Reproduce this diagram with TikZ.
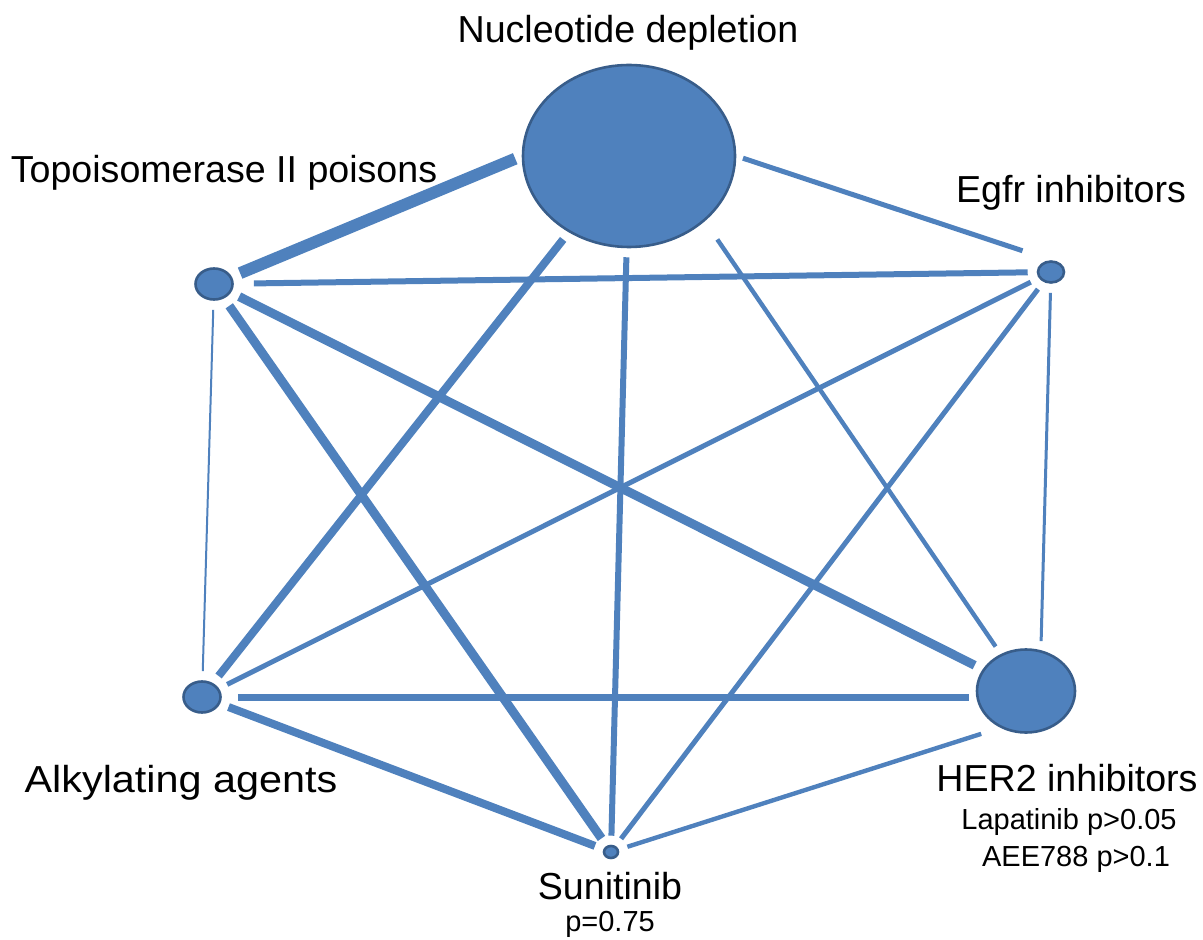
\documentclass[tikz,border=0pt]{standalone}
\usepackage{fontspec}
\setmainfont{Liberation Sans}
\usetikzlibrary{shapes.geometric}
\definecolor{nodeblue}{HTML}{4F81BD}
\definecolor{nodeline}{HTML}{385D8A}
\begin{document}
\begin{tikzpicture}[x=0.5pt,y=-0.5pt,
  drug/.style={ellipse,fill=nodeblue,draw=nodeline,line width=1.3pt,inner sep=0pt},
  link/.style={draw=nodeblue,shorten <=4.5pt,shorten >=4.5pt},
  big/.style={font=\fontsize{18.8}{22}\selectfont,anchor=base,inner sep=0pt},
  small/.style={font=\fontsize{14.5}{17}\selectfont,anchor=base,inner sep=0pt}]
\useasboundingbox (0,0) rectangle (1203,940);
% nodes
\node[drug,minimum width=106pt,minimum height=91pt] (N) at (629,156) {};
\node[drug,minimum width=18.5pt,minimum height=15.5pt] (T) at (214,284) {};
\node[drug,minimum width=13pt,minimum height=10.5pt] (E) at (1051,272) {};
\node[drug,minimum width=18.5pt,minimum height=15.5pt] (A) at (202,697) {};
\node[drug,minimum width=49pt,minimum height=41.5pt] (H) at (1026,691) {};
\node[drug,minimum width=7pt,minimum height=6pt] (S) at (611,852) {};
% edges
\draw[link,line width=6pt,shorten <=3.5pt] (N.west) -- (T);
\draw[link,line width=2.5pt,shorten <=3.5pt,shorten >=15pt] (N.east) -- (E.north);
\draw[link,line width=4pt] (N) -- (A);
\draw[link,line width=3pt] (N) -- (S);
\draw[link,line width=2.2pt,shorten <=11pt] (N.south east) -- (H);
\draw[link,line width=3pt,shorten <=10pt] (T) -- (E);
\draw[link,line width=1pt] (T) -- (A);
\draw[link,line width=4.5pt] (T) -- (S);
\draw[link,line width=4.5pt] (T) -- (H);
\draw[link,line width=2.5pt] (E) -- (A);
\draw[link,line width=2.5pt] (E) -- (S);
\draw[link,line width=1.5pt] (E) -- (H.70);
\draw[link,line width=3.5pt,shorten <=8pt,shorten >=3.5pt] (A.east) -- (A.east -| H.west);
\draw[link,line width=4pt] (A) -- (S);
\draw[link,line width=2.2pt,shorten >=10pt] (S) -- (H.235);
% labels
\node[big] (lN) at (628,43) {Nucleotide depletion};
\node[big] (lT) at (224,183) {Topoisomerase II poisons};
\node[big] (lE) at (1071,203) {Egfr inhibitors};
\node[big,xscale=1.1] (lA) at (181,792) {Alkylating agents};
\node[big] (lH) at (1067,791) {HER2 inhibitors};
\node[small] (lH1) at (1069,829) {Lapatinib p>0.05};
\node[small] (lH2) at (1076,866) {AEE788 p>0.1};
\node[big] (lS) at (610,899) {Sunitinib};
\node[small] (lS1) at (610,931) {p=0.75};
\end{tikzpicture}
\end{document}
